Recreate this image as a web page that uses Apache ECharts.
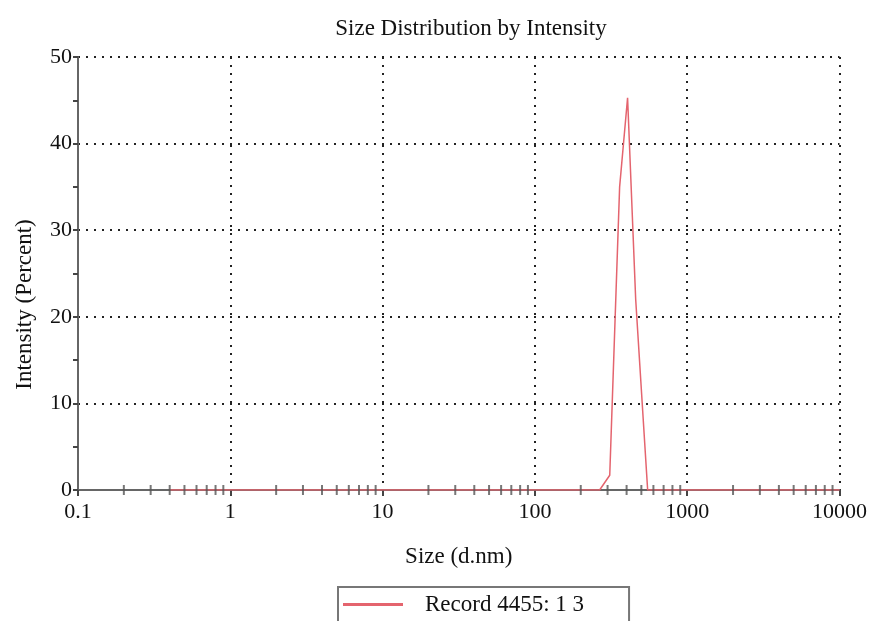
<!DOCTYPE html>
<html>
<head>
<meta charset="utf-8">
<script src="https://cdn.jsdelivr.net/npm/echarts@6/dist/echarts.min.js"></script>
<style>html,body{margin:0;padding:0;background:#fff}#c{width:870px;height:621px}</style>
</head>
<body>
<div id="c"></div>
<script>
// Size (d.nm) and intensity (%)
const sizes = [0.4, 1, 10, 100, 266, 310, 360, 406, 459, 550, 1000, 10000];
const intensity = [0, 0, 0, 0, 0, 1.7, 35, 45.3, 22, 0, 0, 0];
const seriesName = 'Record 4455: 1 3';
const xTickLabels = ['0.1', '1', '10', '100', '1000', '10000'];
const decades = [0.1, 1, 10, 100, 1000];
const minorMultipliers = [2, 3, 4, 5, 6, 7, 8, 9];

const minorTicks = [];
decades.forEach(d => minorMultipliers.forEach(m => minorTicks.push([d * m, 0])));

const font = '"Liberation Serif", "Times New Roman", serif';
const chart = echarts.init(document.getElementById('c'));
chart.setOption({
  animation: false,
  backgroundColor: '#fff',
  title: {
    text: 'Size Distribution by Intensity',
    left: 466, top: 12, textAlign: 'center',
    textStyle: { fontFamily: font, fontSize: 23, fontWeight: 'normal', color: '#111' }
  },
  legend: {
    data: [{ name: seriesName, icon: 'rect' }],
    left: 338, top: 587,
    padding: [6, 45, 20, 5],
    itemWidth: 60, itemHeight: 3,
    borderColor: '#777', borderWidth: 2,
    textStyle: { fontFamily: font, fontSize: 23, color: '#111', padding: [0, 0, 0, 17] }
  },
  grid: { left: 78, right: 30, top: 57, bottom: 131 },
  xAxis: {
    type: 'log', logBase: 10, min: 0.1, max: 10000,
    name: 'Size (d.nm)', nameLocation: 'middle', nameGap: 55,
    nameTextStyle: { fontFamily: font, fontSize: 23, color: '#111' },
    axisLine: { show: true, onZero: false, lineStyle: { color: '#666', width: 2 } },
    axisTick: { show: true, length: 6, inside: false, lineStyle: { color: '#444', width: 2 } },
    axisLabel: {
      fontFamily: font, fontSize: 22, color: '#111', margin: 11,
      formatter: v => { const i = decades.concat([10000]).findIndex(d => Math.abs(d - v) / d < 1e-6); return i >= 0 ? xTickLabels[i] : ''; }
    },
    splitLine: { show: true, lineStyle: { color: '#222', width: 2, type: [2, 6] } }
  },
  yAxis: {
    type: 'value', min: 0, max: 50, interval: 10,
    name: 'Intensity (Percent)', nameLocation: 'middle', nameGap: 42,
    nameTextStyle: { fontFamily: font, fontSize: 23, color: '#111', padding: [0, 62, 0, 0] },
    axisLine: { show: true, lineStyle: { color: '#666', width: 2 } },
    axisTick: { show: true, length: 5, lineStyle: { color: '#444', width: 2 } },
    minorTick: { show: true, splitNumber: 2, length: 5, lineStyle: { color: '#444', width: 2 } },
    axisLabel: { fontFamily: font, fontSize: 22, color: '#111', margin: 6 },
    splitLine: { show: true, lineStyle: { color: '#222', width: 2, type: [2, 6] } }
  },
  series: [
    {
      name: seriesName, type: 'line', symbol: 'none',
      data: sizes.map((s, i) => [s, intensity[i]]),
      lineStyle: { color: '#e4646e', width: 1.5 },
      itemStyle: { color: '#e4646e' },
      z: 3
    },
    {
      name: 'minorTicks', type: 'scatter', silent: true,
      data: minorTicks, symbol: 'rect', symbolSize: [2, 10],
      itemStyle: { color: '#555' }, z: 4
    }
  ]
});
</script>
</body>
</html>
